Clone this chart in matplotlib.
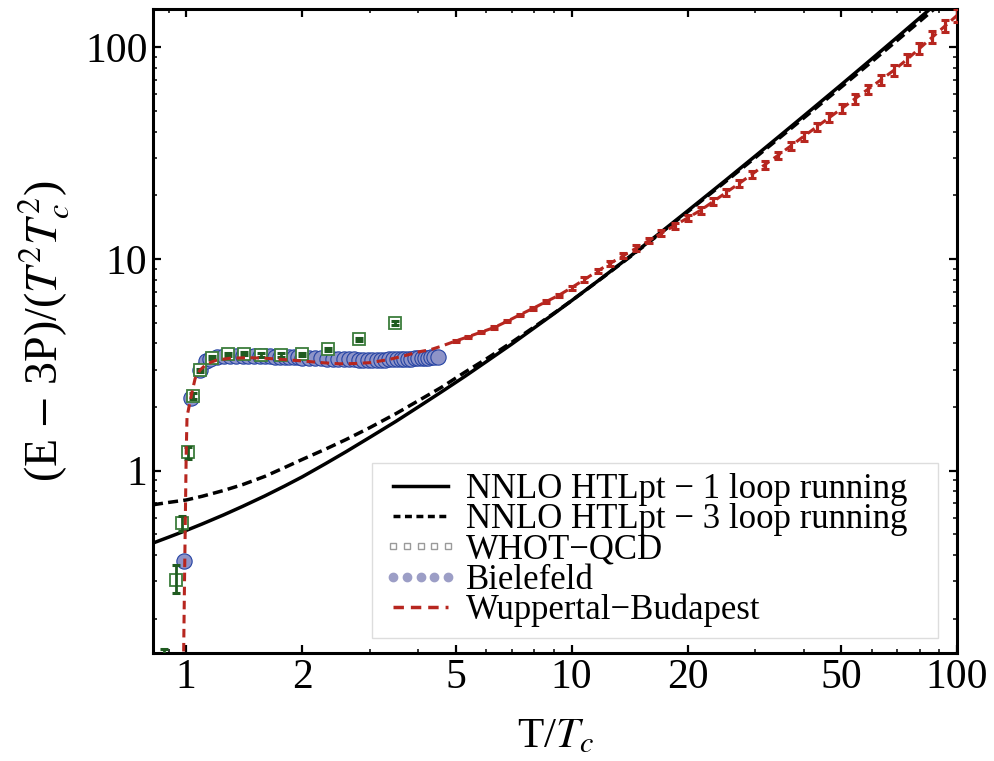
import matplotlib
matplotlib.use("Agg")
import matplotlib.pyplot as plt
from matplotlib.lines import Line2D
from matplotlib.ticker import LogLocator, NullFormatter, FixedLocator, FixedFormatter

plt.rcParams['font.family'] = ['Liberation Serif', 'DejaVu Serif']
plt.rcParams['mathtext.fontset'] = 'stix'

# ---------------- data ----------------
# NNLO HTLpt, 1-loop running
htl1_T = [0.82, 0.9, 1.0, 1.1, 1.25, 1.4, 1.6, 1.8, 2.0, 2.3, 2.6, 3.0, 3.5, 4.0, 4.6, 5.3, 6.0, 7.0,
          8.0, 9.0, 10.0, 12.0, 14.0, 17.0, 20.0, 25.0, 30.0, 35.0, 40.0, 50.0, 60.0, 70.0, 80.0, 90.0, 100.0]
htl1_y = [0.455, 0.485, 0.522, 0.560, 0.618, 0.678, 0.760, 0.846, 0.935, 1.08, 1.23, 1.44, 1.71, 2.0, 2.36,
          2.80, 3.27, 3.97, 4.73, 5.52, 6.36, 8.16, 10.12, 13.34, 16.89, 23.44, 30.75, 38.76, 47.42, 66.55,
          88.1, 111.9, 137.9, 165.9, 195.7]
# NNLO HTLpt, 3-loop running
htl3_T = [0.82, 0.9, 1.0, 1.1, 1.25, 1.4, 1.6, 1.8, 2.0, 2.3, 2.6, 3.0, 3.5, 4.0, 4.6, 5.3, 6.0, 7.0,
          8.0, 9.0, 10.0, 12.0, 14.0, 17.0, 20.0, 25.0, 30.0, 35.0, 40.0, 50.0, 60.0, 70.0, 80.0, 90.0, 100.0]
htl3_y = [0.69, 0.708, 0.727, 0.757, 0.806, 0.859, 0.94, 1.035, 1.13, 1.265, 1.404, 1.60, 1.86, 2.14, 2.48,
          2.93, 3.37, 4.05, 4.78, 5.55, 6.36, 8.14, 10.07, 13.23, 16.72, 23.11, 30.23, 37.98, 46.38, 64.82,
          85.46, 108.1, 132.8, 159.3, 187.3]

# WHOT-QCD
whot_T = [0.878, 0.941, 0.975, 1.01, 1.044, 1.086, 1.17, 1.28, 1.41, 1.56, 1.76, 2.0, 2.33, 2.80, 3.48]
whot_y = [0.11, 0.305, 0.564, 1.22, 2.26, 2.98, 3.42, 3.55, 3.57, 3.52, 3.52, 3.55, 3.75, 4.17, 5.0]
whot_lo = [0.0, 0.042, 0.044, 0.08, 0.07, 0.06, 0.06, 0.06, 0.06, 0.06, 0.06, 0.06, 0.06, 0.08, 0.10]
whot_hi = [0.033, 0.055, 0.046, 0.08, 0.07, 0.06, 0.06, 0.06, 0.06, 0.06, 0.06, 0.06, 0.06, 0.08, 0.10]

# Bielefeld
biel_T = [0.986, 1.03, 1.086, 1.126, 1.15, 1.2, 1.25, 1.3, 1.35, 1.4, 1.45, 1.5, 1.55, 1.6, 1.65, 1.7,
          1.75, 1.8, 1.85, 1.9, 1.95, 2.0, 2.08, 2.16, 2.24, 2.32, 2.40, 2.48, 2.56, 2.64, 2.72, 2.80,
          2.88, 2.96, 3.04, 3.12, 3.20, 3.28, 3.36, 3.44, 3.52, 3.60, 3.68, 3.76, 3.84, 3.92, 4.00,
          4.08, 4.16, 4.24, 4.32, 4.40, 4.50]
biel_y = [0.373, 2.2, 2.98, 3.3, 3.38, 3.44, 3.47, 3.48, 3.49, 3.49, 3.49, 3.48, 3.48, 3.47, 3.47, 3.46,
          3.46, 3.45, 3.44, 3.44, 3.43, 3.42, 3.41, 3.40, 3.39, 3.38, 3.38, 3.37, 3.37, 3.36, 3.36, 3.35,
          3.35, 3.35, 3.35, 3.35, 3.35, 3.35, 3.36, 3.36, 3.36, 3.37, 3.37, 3.38, 3.38, 3.39, 3.40,
          3.41, 3.41, 3.42, 3.43, 3.43, 3.44]

# Wuppertal-Budapest: low-T curve (no visible bars)
wb_low_T = [0.984, 0.990, 0.995, 1.0, 1.005, 1.03, 1.055, 1.087, 1.13, 1.2, 1.3, 1.45, 1.6, 1.8, 2.0,
            2.25, 2.5, 2.75, 3.0, 3.35, 3.7, 4.03, 4.3, 4.6]
wb_low_y = [0.12, 0.3, 0.6, 1.2, 1.8, 2.25, 2.73, 2.99, 3.2, 3.33, 3.4, 3.42, 3.4, 3.35, 3.3,
            3.24, 3.2, 3.21, 3.24, 3.35, 3.5, 3.65, 3.73, 3.88]
# Wuppertal-Budapest: points with error bars
wb_T = [5.0, 5.4, 5.83, 6.3, 6.8, 7.35, 7.94, 8.57, 9.26, 10.0, 10.8, 11.7, 12.6, 13.6, 14.7, 15.9,
        17.1, 18.5, 20.0, 21.6, 23.3, 25.2, 27.2, 29.4, 31.7, 34.3, 37.0, 40.0, 43.2, 46.6, 50.4,
        54.4, 58.7, 63.4, 68.5, 74.0, 79.9, 86.3, 93.2, 100.0]
wb_y = [4.10, 4.30, 4.52, 4.75, 5.08, 5.46, 5.85, 6.28, 6.74, 7.33, 8.01, 8.80, 9.55, 10.36, 11.26, 12.25,
        13.24, 14.40, 15.65, 17.0, 18.7, 20.66, 22.77, 25.2, 27.9, 30.9, 34.2, 38.0, 42.1, 46.6, 51.7,
        57.3, 63.4, 70.2, 77.9, 87.5, 98.9, 111.9, 126.6, 141.7]
wb_err = [0.04, 0.04, 0.05, 0.06, 0.06, 0.07, 0.08, 0.10, 0.12, 0.15, 0.18, 0.21, 0.25, 0.29, 0.34, 0.38,
          0.42, 0.48, 0.55, 0.61, 0.69, 0.79, 0.89, 1.01, 1.14, 1.30, 1.47, 1.67, 1.94, 2.24, 2.59,
          2.98, 3.42, 3.93, 4.52, 5.25, 6.13, 7.16, 8.36, 9.64]

x_ticks = [1, 2, 5, 10, 20, 50, 100]
x_ticklabels = ['1', '2', '5', '10', '20', '50', '100']
y_ticks = [1, 10, 100]
y_ticklabels = ['1', '10', '100']

legend_labels = ['NNLO HTLpt \u2212 1 loop running', 'NNLO HTLpt \u2212 3 loop running',
                 'WHOT\u2212QCD', 'Bielefeld', 'Wuppertal\u2212Budapest']

# ---------------- styles ----------------
RED = '#b7261f'
GREEN_EDGE = '#3c7d3c'
GREEN_BAR = '#1f5b20'
BLUE_FACE = '#8e94c8'
BLUE_EDGE = '#2342a3'

fig = plt.figure(figsize=(9.94, 7.61), dpi=100)
ax = fig.add_axes([0.1539, 0.1423, 0.8089, 0.8459])
ax.set_xscale('log')
ax.set_yscale('log')

ax.plot(htl1_T, htl1_y, color='k', lw=2.5, zorder=2, solid_capstyle='butt')
ax.plot(htl3_T, htl3_y, color='k', lw=2.5, ls=(0, (2.9, 1.5)), zorder=2)

ax.plot(biel_T, biel_y, 'o', ms=11, mfc=BLUE_FACE, mec=BLUE_EDGE, mew=0.8, zorder=3)

ax.plot(whot_T, whot_y, 's', ms=9, mfc='white', mec=GREEN_EDGE, mew=1.3, zorder=4)
ax.errorbar(whot_T, whot_y, yerr=[whot_lo, whot_hi], fmt='none', ecolor=GREEN_BAR,
            elinewidth=2.0, capsize=2.6, capthick=2.2, zorder=5)

ax.plot(wb_low_T + wb_T, wb_low_y + wb_y, color=RED, lw=2.2, ls=(0, (2.8, 1.8)), zorder=6)
ax.errorbar(wb_T, wb_y, yerr=wb_err, fmt='none', ecolor=RED, elinewidth=2.3,
            capsize=3.2, capthick=2.2, zorder=6)

ax.set_xlim(0.82, 100)
ax.set_ylim(0.138, 152)

ax.xaxis.set_major_locator(FixedLocator(x_ticks))
ax.xaxis.set_major_formatter(FixedFormatter(x_ticklabels))
ax.xaxis.set_minor_locator(LogLocator(base=10, subs=range(2, 10)))
ax.xaxis.set_minor_formatter(NullFormatter())
ax.yaxis.set_major_locator(FixedLocator(y_ticks))
ax.yaxis.set_major_formatter(FixedFormatter(y_ticklabels))
ax.yaxis.set_minor_locator(LogLocator(base=10, subs=range(2, 10)))
ax.yaxis.set_minor_formatter(NullFormatter())

ax.tick_params(which='both', direction='in', top=True, right=True)
ax.tick_params(which='major', length=6, width=1.6, labelsize=30, pad=4)
ax.tick_params(which='minor', length=3, width=1.1)
for s in ax.spines.values():
    s.set_linewidth(2.2)

ax.set_xlabel(r'T/$T_c$', fontsize=31, labelpad=15)
ax.set_ylabel(r'(E $-$ 3P)/($T^2T_c^2$)', fontsize=33, labelpad=10)

handles = [
    Line2D([], [], color='k', lw=2.5),
    Line2D([], [], color='k', lw=2.5, ls=(0, (2.0, 1.3))),
    Line2D([], [], ls='none', marker='s', ms=5, mfc='white', mec='#9a9a9a', mew=1.0),
    Line2D([], [], ls='none', marker='o', ms=6, mfc='#9c9ec6', mec='#9c9ec6'),
    Line2D([], [], color=RED, lw=2.5, ls=(0, (3.0, 2.0))),
]
leg = ax.legend(handles, legend_labels, loc='lower left', bbox_to_anchor=(0.2724, 0.023, 0.704, 0.27),
                mode='expand', borderaxespad=0, fontsize=25, numpoints=5, handlelength=2.2,
                handletextpad=0.2, labelspacing=-0.08, borderpad=0.3, fancybox=False, framealpha=1,
                edgecolor='#dddddd')
leg.get_frame().set_linewidth(1.0)
leg.set_zorder(10)

fig.savefig('out.png', dpi=100)
